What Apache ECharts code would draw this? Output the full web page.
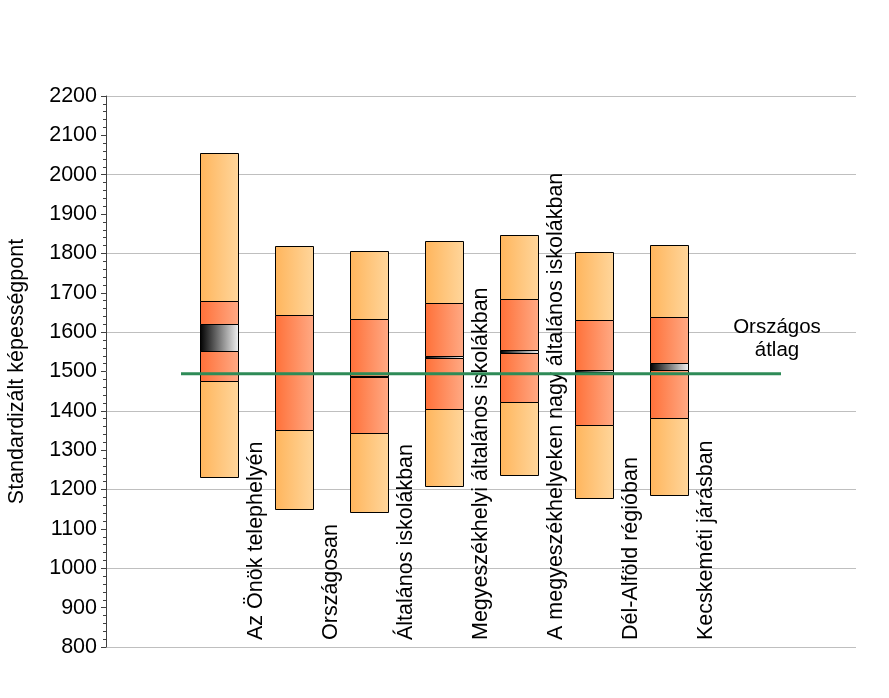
<!DOCTYPE html>
<html>
<head>
<meta charset="utf-8">
<script src="https://cdn.jsdelivr.net/npm/echarts@6/dist/echarts.min.js"></script>
<style>
html,body{margin:0;padding:0;background:#fff;}
#chart{width:889px;height:698px;}
</style>
</head>
<body>
<div id="chart"></div>
<script>
const categories = ['Az Önök telephelyén','Országosan','Általános iskolákban','Megyeszékhelyi általános iskolákban','A megyeszékhelyeken nagy általános iskolákban','Dél-Alföld régióban','Kecskeméti járásban'];
const p5     = [1232, 1151, 1143, 1210, 1236, 1178, 1185];
const p25    = [1476, 1351, 1344, 1404, 1423, 1363, 1381];
const ciLow  = [1552, 1493, 1485, 1534, 1548, 1499, 1505];
const ciHigh = [1621, 1495, 1489, 1539, 1554, 1503, 1521];
const p75    = [1679, 1643, 1633, 1673, 1683, 1630, 1639];
const p95    = [2055, 1819, 1806, 1832, 1846, 1804, 1821];
const nationalMean = 1494;
const nationalLabel = 'Országos\nátlag';
const yAxisName = 'Standardizált képességpont';
const yMin = 800, yMax = 2200;

const FONT = 'Liberation Sans, Arial, sans-serif';
const boxData = categories.map((c, i) => [i + 1.5, p5[i], p25[i], ciLow[i], ciHigh[i], p75[i], p95[i]]);
const labelData = categories.map((c, i) => [i + 2, yMin]);

function grad(c1, c2) {
  return new echarts.graphic.LinearGradient(0, 0, 1, 0, [{offset: 0, color: c1}, {offset: 1, color: c2}]);
}
const outerFill = () => grad('#FFB55C', '#FFD69C');
const innerFill = () => grad('#FF7038', '#FFAA85');
const ciFill = () => grad('#000000', '#F4F4F4');

const chart = echarts.init(document.getElementById('chart'), null, {renderer: 'canvas'});
chart.setOption({
  animation: false,
  backgroundColor: '#fff',
  grid: {left: 106, right: 33, top: 96, bottom: 51, containLabel: false, outerBoundsMode: 'none'},
  xAxis: {type: 'value', min: 0, max: 10, interval: 1, show: false},
  yAxis: [{
    type: 'value', min: yMin, max: yMax, interval: 100,
    name: yAxisName, nameLocation: 'middle', nameGap: 78, nameRotate: 90,
    nameTextStyle: {fontFamily: FONT, fontSize: 21.5, color: '#000'},
    axisLine: {show: true, lineStyle: {color: '#404040', width: 1}},
    axisTick: {show: true, length: 5, lineStyle: {color: '#404040'}},
    minorTick: {show: true, splitNumber: 5, length: 3, lineStyle: {color: '#404040'}},
    axisLabel: {fontFamily: FONT, fontSize: 21.5, color: '#000', margin: 9, formatter: v => String(v)},
    splitLine: {show: false}
  }, {
    type: 'value', min: yMin, max: yMax, interval: 200, position: 'left',
    axisLine: {show: false}, axisTick: {show: false}, axisLabel: {show: false},
    splitLine: {show: true, lineStyle: {color: '#BFBFBF', width: 1}}
  }],
  series: [{
    type: 'custom',
    yAxisIndex: 0,
    data: boxData,
    z: 2,
    renderItem: function (params, api) {
      const x = api.value(0);
      const w = api.size([1, 0])[0] * 0.5;
      const vals = [1, 2, 3, 4, 5, 6].map(k => api.value(k));
      const fills = [outerFill(), innerFill(), ciFill(), innerFill(), outerFill()];
      const children = [];
      for (let k = 0; k < 5; k++) {
        const top = api.coord([x, vals[k + 1]]);
        const bot = api.coord([x, vals[k]]);
        children.push({
          type: 'rect',
          shape: {x: Math.round(top[0] - w / 2) + 0.5, y: Math.round(top[1]) + 0.5, width: Math.round(w), height: Math.max(Math.round(bot[1]) - Math.round(top[1]), 1)},
          style: {fill: fills[k], stroke: '#000', lineWidth: 1}
        });
      }
      return {type: 'group', children: children};
    }
  }, {
    type: 'custom',
    data: labelData,
    z: 3,
    renderItem: function (params, api) {
      const p = api.coord([api.value(0), api.value(1)]);
      return {
        type: 'text',
        x: p[0], y: p[1] - 7,
        rotation: Math.PI / 2,
        style: {text: categories[params.dataIndex], fill: '#000', font: '21.5px ' + FONT, align: 'left', verticalAlign: 'middle'}
      };
    }
  }, {
    type: 'line',
    data: [[1, nationalMean], [9, nationalMean]],
    symbol: 'none',
    z: 5,
    lineStyle: {color: '#2E8B57', width: 3},
    silent: true
  }, {
    type: 'custom',
    data: [[9, nationalMean]],
    z: 6,
    renderItem: function (params, api) {
      const p = api.coord([api.value(0), api.value(1)]);
      return {
        type: 'text',
        x: p[0] - 4, y: p[1] - 12,
        style: {text: nationalLabel, fill: '#000', font: '20.5px ' + FONT, align: 'center', verticalAlign: 'bottom', lineHeight: 23}
      };
    }
  }]
});
</script>
</body>
</html>
